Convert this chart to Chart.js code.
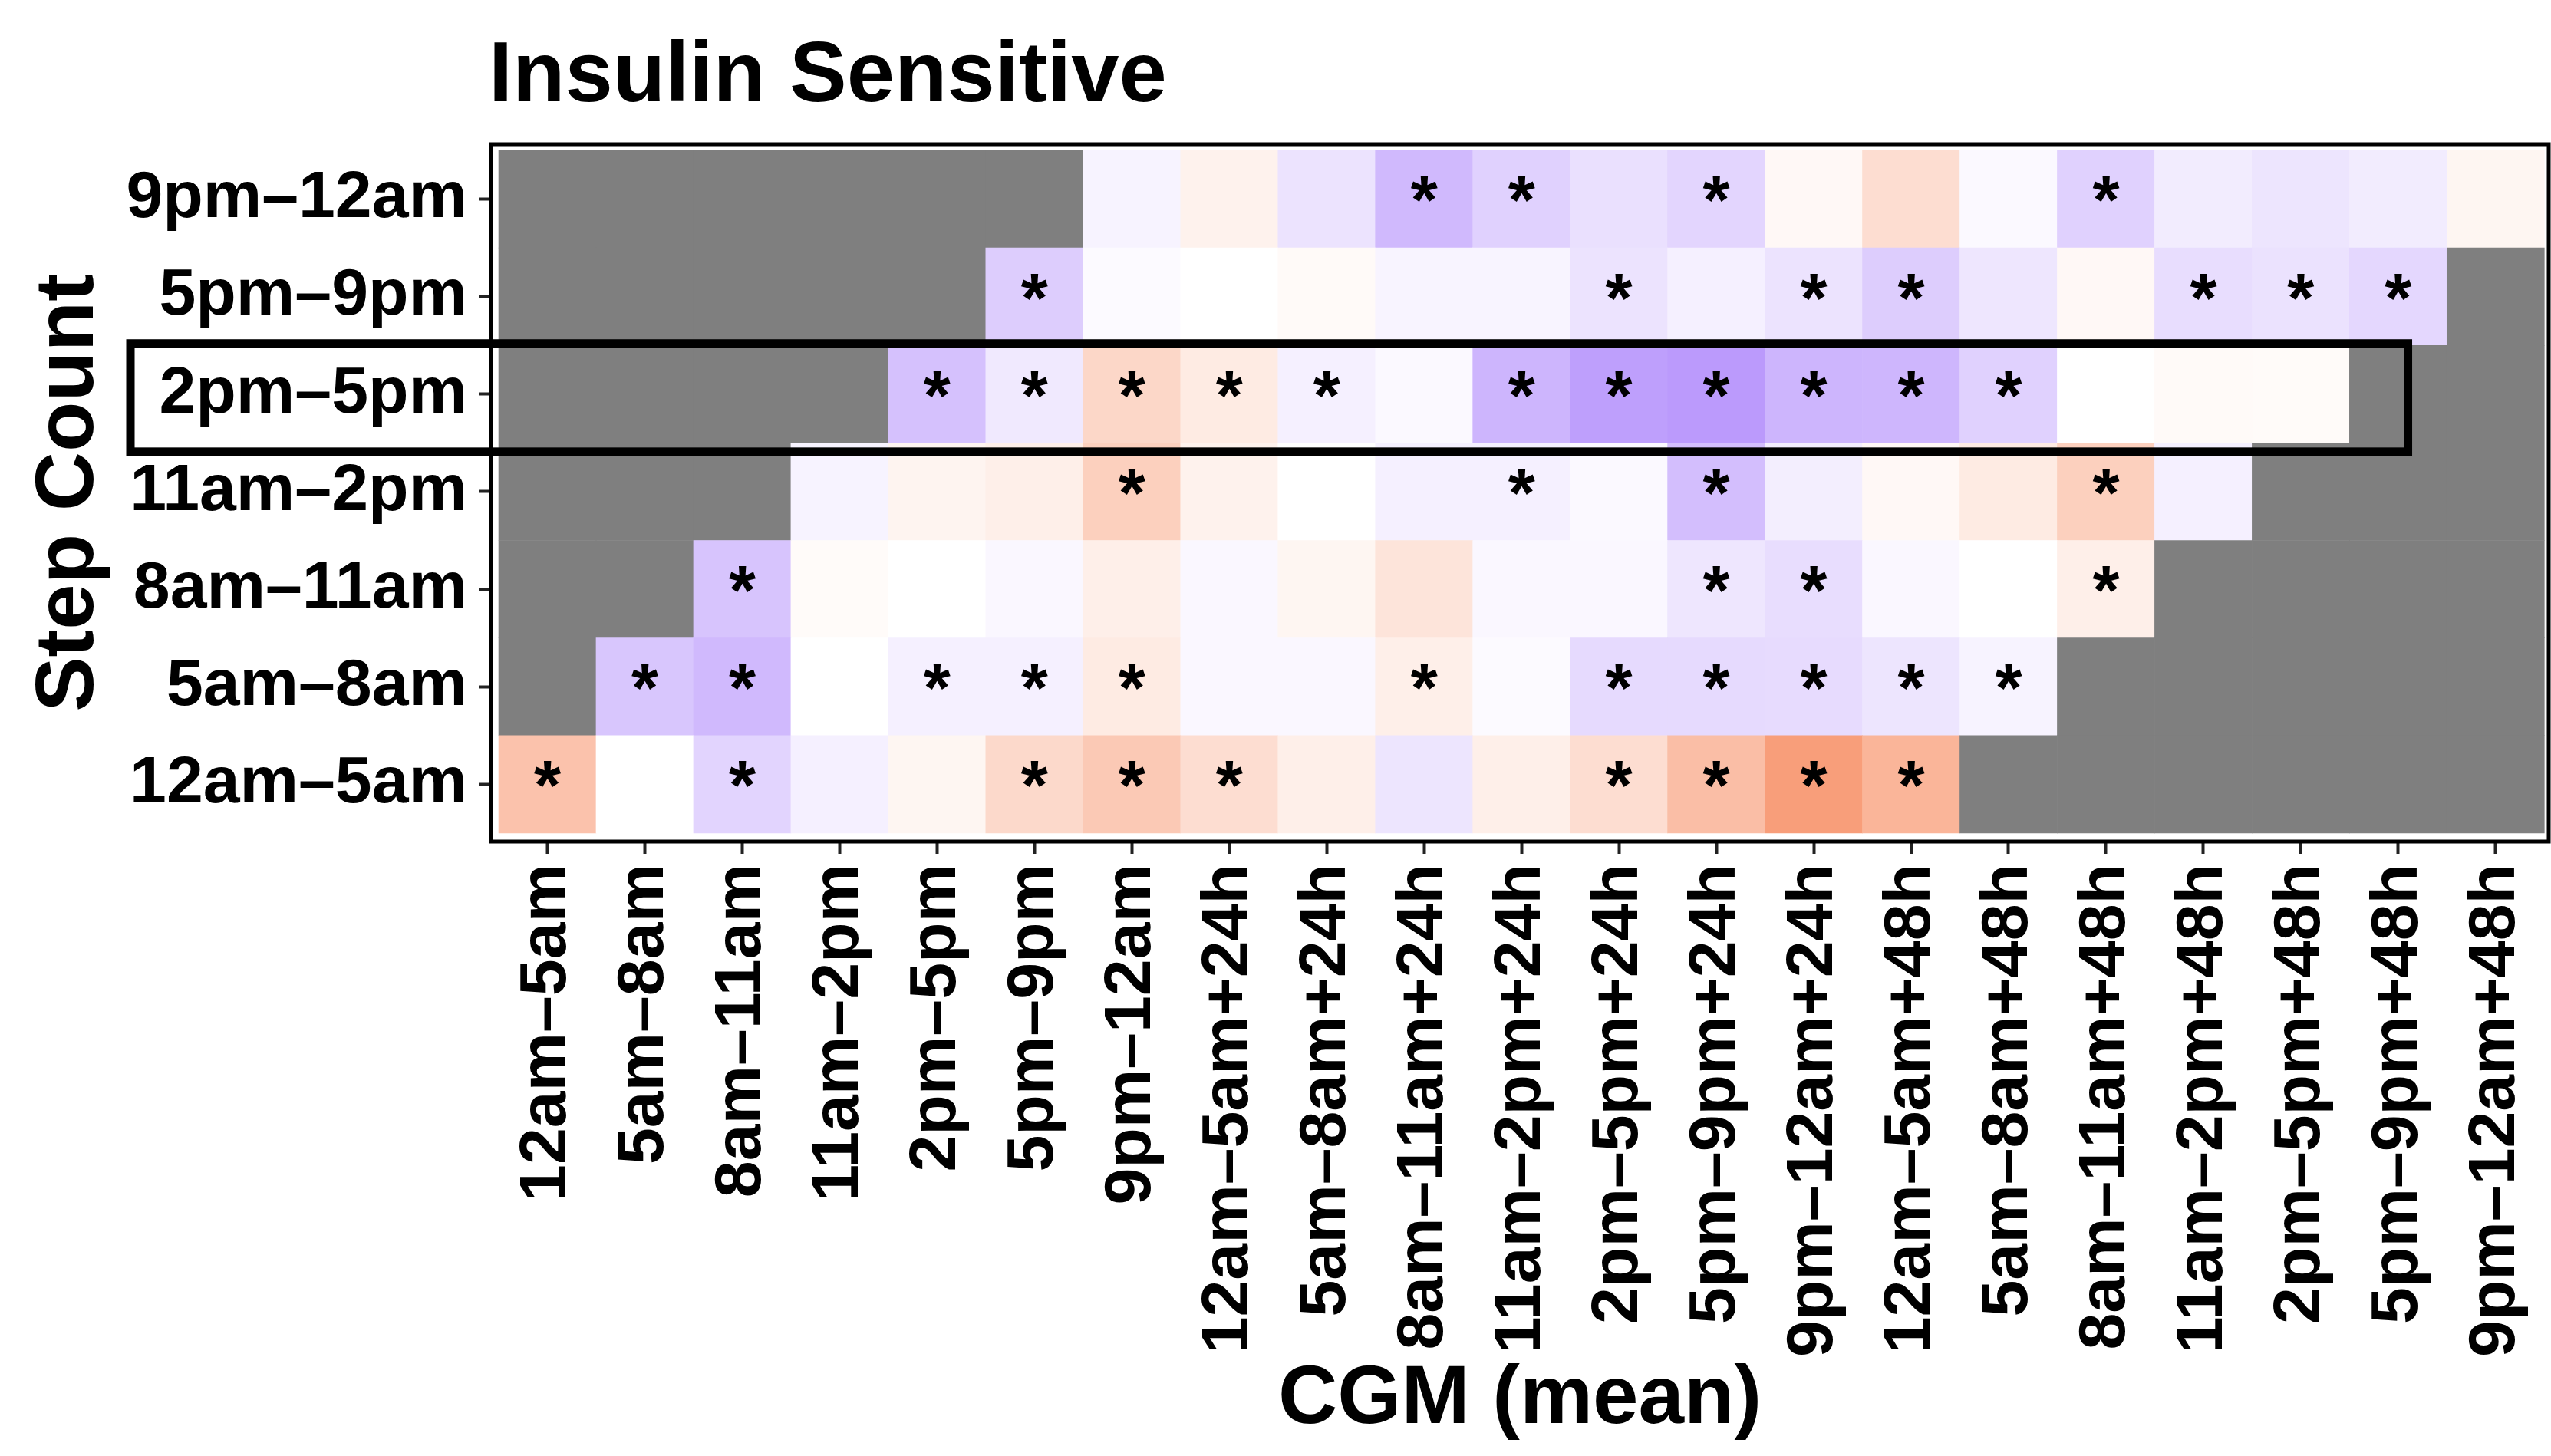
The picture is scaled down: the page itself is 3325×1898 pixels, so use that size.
<!DOCTYPE html>
<html>
<head>
<meta charset="utf-8">
<script src="https://cdn.jsdelivr.net/npm/chart.js@4.4.1/dist/chart.umd.min.js"></script>
<style>
html,body{margin:0;padding:0;background:#fff;}
#wrap{width:3325px;height:1898px;position:relative;}
</style>
</head>
<body>
<div id="wrap"><canvas id="c"></canvas></div>
<script>
// ---- categories ----
const xLabels = ['12am–5am','5am–8am','8am–11am','11am–2pm','2pm–5pm','5pm–9pm','9pm–12am',
  '12am–5am+24h','5am–8am+24h','8am–11am+24h','11am–2pm+24h','2pm–5pm+24h','5pm–9pm+24h','9pm–12am+24h',
  '12am–5am+48h','5am–8am+48h','8am–11am+48h','11am–2pm+48h','2pm–5pm+48h','5pm–9pm+48h','9pm–12am+48h'];
// bottom to top
const yLabels = ['12am–5am','5am–8am','8am–11am','11am–2pm','2pm–5pm','5pm–9pm','9pm–12am'];

// ---- values per Step Count row (null = not available, drawn grey) ----
const v12am5am = [0.45, 0, -0.28, -0.10, 0.07, 0.28, 0.40, 0.25, 0.12, -0.17, 0.12, 0.25, 0.48, 0.72, 0.55, null, null, null, null, null, null];
const v5am8am  = [null, -0.37, -0.45, 0, -0.10, -0.10, 0.15, -0.05, -0.05, 0.12, -0.03, -0.24, -0.24, -0.23, -0.17, -0.08, null, null, null, null, null];
const v8am11am = [null, null, -0.38, 0.03, 0, -0.05, 0.12, -0.05, 0.07, 0.20, -0.05, -0.05, -0.16, -0.22, -0.05, 0, 0.12, null, null, null, null];
const v11am2pm = [null, null, null, -0.08, 0.08, 0.12, 0.35, 0.10, 0, -0.10, -0.10, -0.04, -0.42, -0.11, 0.05, 0.15, 0.35, -0.10, null, null, null];
const v2pm5pm  = [null, null, null, null, -0.40, -0.14, 0.30, 0.15, -0.10, -0.04, -0.48, -0.62, -0.65, -0.48, -0.47, -0.30, 0, 0.04, 0.03, null, null];
const v5pm9pm  = [null, null, null, null, null, -0.32, -0.03, 0, 0.04, -0.07, -0.07, -0.18, -0.10, -0.18, -0.32, -0.16, 0.05, -0.22, -0.19, -0.26, null];
const v9pm12am = [null, null, null, null, null, null, -0.08, 0.10, -0.18, -0.45, -0.30, -0.20, -0.27, 0.05, 0.25, -0.04, -0.30, -0.12, -0.17, -0.12, 0.07];

// ---- significance (1 = "*") ----
const s12am5am = [1,0,1,0,0,1,1,1,0,0,0,1,1,1,1,0,0,0,0,0,0];
const s5am8am  = [0,1,1,0,1,1,1,0,0,1,0,1,1,1,1,1,0,0,0,0,0];
const s8am11am = [0,0,1,0,0,0,0,0,0,0,0,0,1,1,0,0,1,0,0,0,0];
const s11am2pm = [0,0,0,0,0,0,1,0,0,0,1,0,1,0,0,0,1,0,0,0,0];
const s2pm5pm  = [0,0,0,0,1,1,1,1,1,0,1,1,1,1,1,1,0,0,0,0,0];
const s5pm9pm  = [0,0,0,0,0,1,0,0,0,0,0,1,0,1,1,0,0,1,1,1,0];
const s9pm12am = [0,0,0,0,0,0,0,0,0,1,1,0,1,0,0,0,1,0,0,0,0];

const rowValues = [v12am5am, v5am8am, v8am11am, v11am2pm, v2pm5pm, v5pm9pm, v9pm12am];
const rowSig = [s12am5am, s5am8am, s8am11am, s11am2pm, s2pm5pm, s5pm9pm, s9pm12am];

const chartTitle = 'Insulin Sensitive';
const xTitle = 'CGM (mean)';
const yTitle = 'Step Count';
const highlightRow = 4; // 2pm–5pm

const FONT = '"Liberation Sans", Arial, Helvetica, sans-serif';
const NA_COLOR = '#7f7f7f';
const NEG = [150, 100, 250];
const POS = [245, 120, 70];
function fillFor(v) {
  if (v === null) return NA_COLOR;
  const t = Math.min(1, Math.abs(v));
  const end = v < 0 ? NEG : POS;
  const c = end.map(e => Math.round(255 + (e - 255) * t));
  return 'rgb(' + c.join(',') + ')';
}

const datasets = rowValues.map((vals, r) => ({
  label: yLabels[r],
  data: vals.map((v, c) => ({x: c, y: [r, r + 1]})),
  backgroundColor: vals.map(fillFor),
  borderWidth: 0,
  grouped: false,
  barPercentage: 1,
  categoryPercentage: 1
}));

const decorPlugin = {
  id: 'decor',
  afterDatasetsDraw(chart) {
    const {ctx, chartArea: a, scales: {x, y}} = chart;
    ctx.save();
    // significance stars
    ctx.fillStyle = '#000';
    ctx.font = 'bold 90px ' + FONT;
    ctx.textAlign = 'center';
    ctx.textBaseline = 'middle';
    rowSig.forEach((arr, r) => arr.forEach((s, c) => {
      if (s) ctx.fillText('*', x.getPixelForValue(c), y.getPixelForValue(r + 0.5) + 8);
    }));
    // panel border
    ctx.strokeStyle = '#000';
    ctx.lineWidth = 5;
    ctx.strokeRect(a.left, a.top, a.right - a.left, a.bottom - a.top);
    ctx.restore();
  },
  afterDraw(chart) {
    const {ctx, scales: {x, y}} = chart;
    ctx.save();
    // title
    ctx.fillStyle = '#000';
    ctx.font = 'bold 112px ' + FONT;
    ctx.textAlign = 'left';
    ctx.textBaseline = 'alphabetic';
    ctx.fillText(chartTitle, 637, 132);
    // highlight box around the 2pm–5pm row
    const top = y.getPixelForValue(highlightRow + 1.02);
    const bottom = y.getPixelForValue(highlightRow - 0.09);
    const right = x.getPixelForValue(19.1);
    const left = 170;
    ctx.strokeStyle = '#000';
    ctx.lineWidth = 11;
    ctx.strokeRect(left, top, right - left, bottom - top);
    ctx.restore();
  }
};

new Chart(document.getElementById('c'), {
  type: 'bar',
  data: {datasets},
  plugins: [decorPlugin],
  options: {
    responsive: true,
    maintainAspectRatio: false,
    devicePixelRatio: 1,
    animation: false,
    events: [],
    layout: {padding: {top: 188, right: 3, bottom: 0, left: 0}},
    plugins: {legend: {display: false}, tooltip: {enabled: false}, title: {display: false}},
    scales: {
      x: {
        type: 'linear',
        offset: false,
        min: -0.579, max: 20.545,
        bounds: 'data',
        afterBuildTicks: s => { s.ticks = xLabels.map((_, i) => ({value: i})); },
        afterFit: s => { s.height = 801; s.paddingLeft = 0; s.paddingRight = 0; },
        ticks: {
          autoSkip: false, minRotation: 90, maxRotation: 90, padding: 13, color: '#000',
          font: {family: FONT, size: 86, weight: 'bold'},
          callback: v => xLabels[Math.round(v)]
        },
        grid: {drawOnChartArea: false, drawTicks: true, tickLength: 16, tickWidth: 4, tickColor: '#222', offset: false},
        border: {display: false},
        title: {display: true, text: xTitle, color: '#000', font: {family: FONT, size: 107, weight: 'bold'}, padding: {top: 0, bottom: 8}}
      },
      y: {
        type: 'linear',
        offset: false,
        min: -0.087, max: 7.063,
        bounds: 'data',
        afterBuildTicks: s => { s.ticks = yLabels.map((_, i) => ({value: i + 0.5})); },
        afterFit: s => { s.width = 640; s.paddingTop = 0; s.paddingBottom = 0; },
        ticks: {
          autoSkip: false, padding: 15, color: '#000',
          font: {family: FONT, size: 86, weight: 'bold'},
          callback: v => yLabels[Math.floor(v)]
        },
        grid: {drawOnChartArea: false, drawTicks: true, tickLength: 16, tickWidth: 4, tickColor: '#222'},
        border: {display: false},
        title: {display: true, text: yTitle, color: '#000', font: {family: FONT, size: 107, weight: 'bold'}, padding: {top: 27, bottom: 0}}
      }
    }
  }
});
</script>
</body>
</html>
